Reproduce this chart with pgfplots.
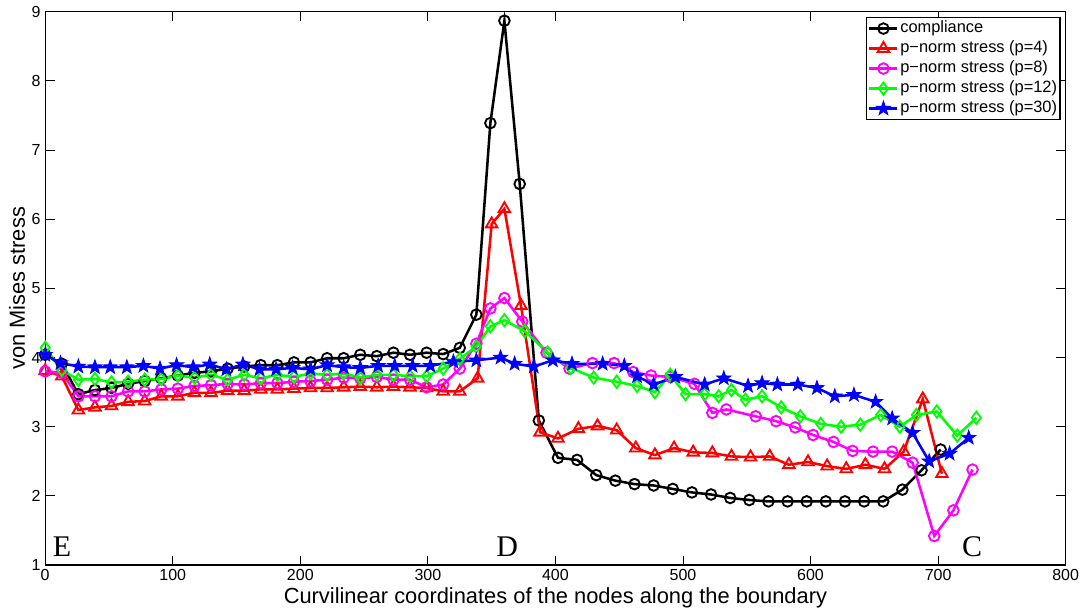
\documentclass[border=0pt]{standalone}
\usepackage{fontspec}
\setmainfont{Liberation Sans}
\newfontfamily\serifE{Liberation Serif}
\usepackage{pgfplots}
\pgfplotsset{compat=1.18}
\definecolor{mgreen}{rgb}{0,1,0}
\definecolor{mmag}{rgb}{1,0,1}
\pgfdeclareplotmark{fstar}{%
  \pgfpathmoveto{\pgfpointpolar{90}{\pgfplotmarksize}}%
  \pgfpathlineto{\pgfpointpolar{126}{0.40\pgfplotmarksize}}%
  \pgfpathlineto{\pgfpointpolar{162}{\pgfplotmarksize}}%
  \pgfpathlineto{\pgfpointpolar{198}{0.40\pgfplotmarksize}}%
  \pgfpathlineto{\pgfpointpolar{234}{\pgfplotmarksize}}%
  \pgfpathlineto{\pgfpointpolar{270}{0.40\pgfplotmarksize}}%
  \pgfpathlineto{\pgfpointpolar{306}{\pgfplotmarksize}}%
  \pgfpathlineto{\pgfpointpolar{342}{0.40\pgfplotmarksize}}%
  \pgfpathlineto{\pgfpointpolar{18}{\pgfplotmarksize}}%
  \pgfpathlineto{\pgfpointpolar{54}{0.40\pgfplotmarksize}}%
  \pgfpathclose
  \pgfusepathqfillstroke
}
\begin{document}
\begin{tikzpicture}
\begin{axis}[
  at={(0,0)}, anchor=south west,
  scale only axis, width=765.4pt, height=415pt,
  xmin=0, xmax=800, ymin=1, ymax=9,
  xtick={0,100,...,800}, ytick={1,2,...,9},
  tick align=inside, major tick length=7pt,
  axis line style={line width=0.9pt},
  every tick/.style={black, line width=0.7pt},
  ticklabel style={font=\fontsize{12}{14}\selectfont},
  /pgf/number format/assume math mode=true,
  xlabel={Curvilinear coordinates of the nodes along the boundary},
  ylabel={von Mises stress},
  label style={font=\fontsize{16.4}{19}\selectfont},
  xlabel style={at={(axis description cs:0.5,-0.0596)}, anchor=center},
  ylabel style={at={(axis description cs:-0.0277,0.5)}, anchor=center},
  every axis plot/.append style={line width=1.9pt},
  legend cell align=left,
  legend style={at={(rel axis cs:0.995,0.991)}, anchor=north east,
    font=\fontsize{12.3}{14}\selectfont, draw=black, line width=0.8pt,
    inner sep=1pt, row sep=0pt,
    nodes={inner sep=1.2pt, text height=9.6pt, text depth=3pt}},
  legend image code/.code={\draw[mark repeat=2,mark phase=2] plot coordinates {(0pt,0pt)(10.5pt,0pt)(21pt,0pt)};},
]
\addplot[black, mark=o, mark size=4pt, mark options={solid, line width=1.4pt}] coordinates {
(0,4.04) (13,3.91) (26,3.47) (39,3.53) (52,3.56) (65,3.62) (78,3.66) (91,3.70) (104,3.74) (117,3.78) (130,3.80) (143,3.84) (156,3.87) (169,3.89) (182,3.89) (195,3.93) (208,3.93) (221,3.99) (234,3.99) (247,4.04) (260,4.02) (273,4.07) (286,4.04) (299,4.07) (312,4.05) (325,4.14) (338,4.62) (349,7.39) (360,8.87) (372,6.51) (387,3.09) (402,2.55) (417,2.52) (432,2.30) (447,2.22) (462,2.17) (477,2.15) (492,2.10) (507,2.05) (522,2.02) (537,1.97) (552,1.94) (567,1.92) (582,1.92) (597,1.92) (612,1.92) (627,1.92) (642,1.92) (657,1.92) (672,2.09) (687,2.37) (702,2.67)
};
\addlegendentry{compliance}
\addplot[red, mark=triangle, mark size=5pt, mark options={solid, line width=1.4pt}] coordinates {
(0,3.81) (13,3.73) (26,3.24) (39,3.28) (52,3.30) (65,3.36) (78,3.37) (91,3.44) (104,3.44) (117,3.49) (130,3.49) (143,3.52) (156,3.52) (169,3.54) (182,3.54) (195,3.55) (208,3.56) (221,3.56) (234,3.57) (247,3.58) (260,3.57) (273,3.58) (286,3.57) (299,3.56) (312,3.51) (325,3.51) (339,3.70) (350,5.93) (360,6.15) (373,4.75) (388,2.92) (402,2.83) (418,2.97) (433,3.01) (448,2.95) (463,2.69) (478,2.59) (493,2.69) (508,2.63) (523,2.62) (538,2.57) (553,2.56) (568,2.57) (583,2.45) (598,2.49) (613,2.43) (628,2.39) (643,2.45) (658,2.39) (673,2.64) (688,3.40) (703,2.32)
};
\addlegendentry{p−norm stress (p=4)}
\addplot[mmag, mark=o, mark size=4pt, mark options={solid, line width=1.4pt}] coordinates {
(0,3.80) (13,3.78) (26,3.44) (39,3.44) (52,3.44) (65,3.51) (78,3.51) (91,3.54) (104,3.55) (117,3.59) (130,3.60) (143,3.62) (156,3.61) (169,3.63) (182,3.63) (195,3.65) (208,3.66) (221,3.68) (234,3.71) (247,3.70) (260,3.72) (273,3.68) (286,3.68) (299,3.57) (312,3.61) (325,3.84) (338,4.20) (349,4.71) (360,4.86) (374,4.52) (393,4.07) (411,3.84) (429,3.92) (446,3.92) (461,3.79) (475,3.74) (490,3.72) (509,3.62) (523,3.20) (534,3.25) (557,3.15) (573,3.08) (588,2.99) (602,2.88) (618,2.78) (633,2.65) (649,2.64) (664,2.64) (680,2.48) (697,1.42) (712,1.79) (727,2.38)
};
\addlegendentry{p−norm stress (p=8)}
\addplot[mgreen, mark=diamond, mark size=4.6pt, mark options={solid, line width=1.4pt}] coordinates {
(0,4.14) (13,3.82) (26,3.68) (39,3.69) (52,3.64) (65,3.65) (78,3.68) (91,3.69) (104,3.74) (117,3.71) (130,3.75) (143,3.68) (156,3.75) (169,3.70) (182,3.75) (195,3.72) (208,3.77) (221,3.75) (234,3.77) (247,3.71) (260,3.75) (273,3.75) (286,3.73) (299,3.73) (312,3.84) (325,3.98) (338,4.16) (349,4.45) (360,4.54) (376,4.38) (394,4.07) (412,3.85) (430,3.71) (448,3.65) (464,3.59) (478,3.50) (490,3.75) (502,3.47) (517,3.47) (528,3.44) (538,3.53) (549,3.39) (562,3.44) (577,3.28) (592,3.15) (608,3.04) (624,3.00) (639,3.03) (655,3.17) (670,3.00) (683,3.17) (699,3.22) (715,2.87) (730,3.13)
};
\addlegendentry{p−norm stress (p=12)}
\addplot[blue, mark=fstar, mark size=5.6pt, mark options={solid, line width=0.6pt, fill=blue}] coordinates {
(0,4.04) (12,3.92) (26,3.87) (39,3.86) (51,3.86) (64,3.86) (77,3.88) (90,3.84) (103,3.89) (116,3.86) (129,3.90) (142,3.83) (155,3.90) (168,3.83) (181,3.83) (194,3.85) (208,3.83) (221,3.89) (234,3.86) (247,3.85) (261,3.88) (274,3.88) (288,3.88) (302,3.88) (320,3.94) (338,3.96) (357,4.00) (368,3.91) (383,3.87) (398,3.96) (413,3.91) (437,3.91) (454,3.88) (464,3.73) (477,3.61) (494,3.72) (517,3.61) (532,3.70) (551,3.59) (562,3.63) (574,3.61) (590,3.61) (605,3.56) (619,3.44) (634,3.46) (651,3.36) (664,3.12) (680,2.91) (693,2.50) (709,2.61) (724,2.84)
};
\addlegendentry{p−norm stress (p=30)}
\node[font=\serifE\fontsize{22.5}{26}\selectfont, anchor=base] at (axis cs:13.2,1.12) {E};
\node[font=\serifE\fontsize{22.5}{26}\selectfont, anchor=base] at (axis cs:362.2,1.12) {D};
\node[font=\serifE\fontsize{22.5}{26}\selectfont, anchor=base] at (axis cs:726.7,1.12) {C};
\end{axis}
\pgfresetboundingbox
\path[use as bounding box] (-33.9pt,-36pt) rectangle (778.4pt,423.8pt);
\end{tikzpicture}
\end{document}
